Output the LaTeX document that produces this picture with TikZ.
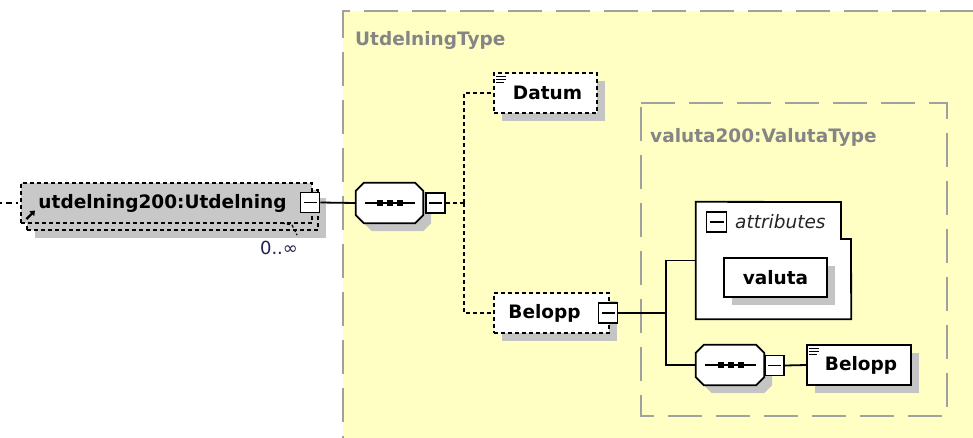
\documentclass[tikz,border=0pt]{standalone}
\usepackage{fontspec}
\setmainfont{DejaVu Sans}
\usetikzlibrary{arrows.meta}
\definecolor{ybg}{HTML}{FFFFC4}
\definecolor{gborder}{HTML}{A0A0A0}
\definecolor{shadowgray}{HTML}{C4C4C4}
\definecolor{elemgray}{HTML}{C8C8C8}
\definecolor{txtgray}{HTML}{858585}
\definecolor{occ}{HTML}{202050}
\newcommand\octpath[1]{([xshift=8pt]#1.north west) -- ([xshift=-8pt]#1.north east) -- ([yshift=-8pt]#1.north east) -- ([yshift=8pt]#1.south east) -- ([xshift=-8pt]#1.south east) -- ([xshift=8pt]#1.south west) -- ([yshift=8pt]#1.south west) -- ([yshift=-8pt]#1.north west) -- cycle}
\newcommand\listicon[1]{%
  \draw[line width=1pt] ([shift={(3,4)}]#1.north west) -- +(10,0);
  \draw[line width=1pt] ([shift={(3,7)}]#1.north west) -- +(10,0);
  \draw[line width=1pt] ([shift={(3,10)}]#1.north west) -- +(8,0);}
\begin{document}
\begin{tikzpicture}[x=1pt,y=-1pt,
  shadowed/.style={preaction={fill=shadowgray,transform canvas={xshift=8pt,yshift=-8pt}}},
  elembox/.style={draw=black, line width=1.8pt, fill=white, inner sep=0pt,
    font=\bfseries\fontsize{18.5}{20}\selectfont, shadowed},
  optbox/.style={elembox, dash pattern=on 4pt off 3pt},
  hidden/.style={draw=none, inner sep=0pt},
  minusbox/.style={draw=black, line width=1.8pt, fill=white, minimum width=19pt,
    minimum height=20pt, inner sep=0pt,
    path picture={\draw[line width=1.5pt] ([xshift=3pt]path picture bounding box.west) -- ([xshift=-3pt]path picture bounding box.east);}},
  conn/.style={line width=1.8pt},
  optconn/.style={conn, dash pattern=on 4pt off 3pt},
  typebox/.style={draw=gborder, line width=2.2pt, dash pattern=on 34pt off 14pt},
  typelabel/.style={text=txtgray, font=\bfseries\fontsize{18.5}{20}\selectfont,
    anchor=base west, inner sep=0pt}
]
\clip (0,0) rectangle (973,437);
% type boxes
\draw[typebox, fill=ybg] (343,470) -- (343,11) -- (1010,11) -- (1010,470) -- cycle;
\node[typelabel] (tlab1) at (355,45) {UtdelningType};
\draw[typebox] (641,103) -- (947,103) -- (947,416) -- (641,416) -- cycle;
\node[typelabel] (tlab2) at (650,142) {valuta200:ValutaType};

% main element (multiple occurrences, optional)
\node[optbox, fill=elemgray, minimum width=291pt, minimum height=40pt] (elemback) at (172.5,210) {};
\node[draw=black, line width=1.8pt, dash pattern=on 4pt off 3pt, fill=elemgray, inner sep=0pt,
  minimum width=291pt, minimum height=40pt,
  font=\bfseries\fontsize{18.5}{20}\selectfont] (elem) at (166.5,203) {\hspace*{-8pt}utdelning200:Utdelning};
\node[minusbox] (elemm) at (310,202.5) {};
\draw[line width=2.4pt, -{Triangle[length=4.5pt,width=6.5pt]}] (26.5,219) -- (35,210.5);
\coordinate (lstart) at (0,203);
\draw[line width=1.4pt, dash pattern=on 2pt off 4pt on 6pt off 4pt] (lstart) -- (elem.west);
\coordinate (occa) at (282,223);
\coordinate (occb) at (292,225);
\coordinate (occc) at (297,235);
\draw[line width=1.3pt, dash pattern=on 3pt off 2pt] (occa) -- (occb) -- (occc);
\node[text=occ, font=\fontsize{18}{20}\selectfont, inner sep=0pt] (occ) at (279,248) {0..∞};

% first sequence
\node[hidden, minimum width=67pt, minimum height=40pt] (seqA) at (389.5,203) {};
\fill[shadowgray, transform canvas={xshift=8pt,yshift=-8pt}] \octpath{seqA};
\draw[conn, fill=white] \octpath{seqA};
\draw[conn] ([xshift=9pt]seqA.west) -- ([xshift=-8pt]seqA.east);
\foreach \dx in {-9.5,0.5,10.5} \fill ([shift={(\dx-3,-3)}]seqA.center) rectangle +(6,6);
\node[minusbox] (seqAm) at (435.5,203) {};
\draw[conn] (elemm.east) -- (seqA.west);
\coordinate (jn1) at (464,203);
\draw[optconn] (seqAm.east) -- (jn1);

% Datum
\node[optbox, minimum width=103pt, minimum height=40pt] (datum) at (545.5,93) {\hspace*{4pt}Datum};
\listicon{datum}
\draw[optconn] (jn1) |- (datum.west);

% Belopp (complex)
\node[optbox, minimum width=115pt, minimum height=40pt] (belopp) at (551.5,313) {Belopp\hspace*{14pt}};
\node[minusbox] (beloppm) at (608,313) {};
\draw[optconn] (jn1) |- (belopp.west);
\coordinate (jn2) at (666,313);
\draw[conn] (beloppm.east) -- (jn2);

% attributes
\node[hidden, minimum width=155pt, minimum height=117pt] (attr) at (773.5,260.5) {};
\draw[conn, fill=white] (attr.north west) -- (841,202) -- (841,239) -- (851,239) -- (attr.south east) -- (attr.south west) -- cycle;
\node[minusbox, minimum width=20pt] (attrm) at (716.5,222) {};
\node[anchor=west, inner sep=0pt, text=black!85, font=\itshape\fontsize{18.5}{20}\selectfont] (attrlab) at (735,222) {attributes};
\node[elembox, minimum width=103pt, minimum height=39pt] (valuta) at (775.5,277.5) {valuta};
\draw[conn] (jn2) |- (attr.west);

% second sequence
\node[hidden, minimum width=68pt, minimum height=40pt] (seqB) at (730,365) {};
\fill[shadowgray, transform canvas={xshift=8pt,yshift=-8pt}] \octpath{seqB};
\draw[conn, fill=white] \octpath{seqB};
\draw[conn] ([xshift=9pt]seqB.west) -- ([xshift=-8pt]seqB.east);
\foreach \dx in {-9.5,0.5,10.5} \fill ([shift={(\dx-3,-3)}]seqB.center) rectangle +(6,6);
\node[minusbox] (seqBm) at (774.5,365.5) {};
\draw[conn] (jn2) |- (seqB.west);

% inner Belopp
\node[elembox, minimum width=104pt, minimum height=40pt] (belopp2) at (859,365) {\hspace*{4pt}Belopp};
\listicon{belopp2}
\draw[conn] (seqBm.east) -- (belopp2.west);
\end{tikzpicture}
\end{document}
